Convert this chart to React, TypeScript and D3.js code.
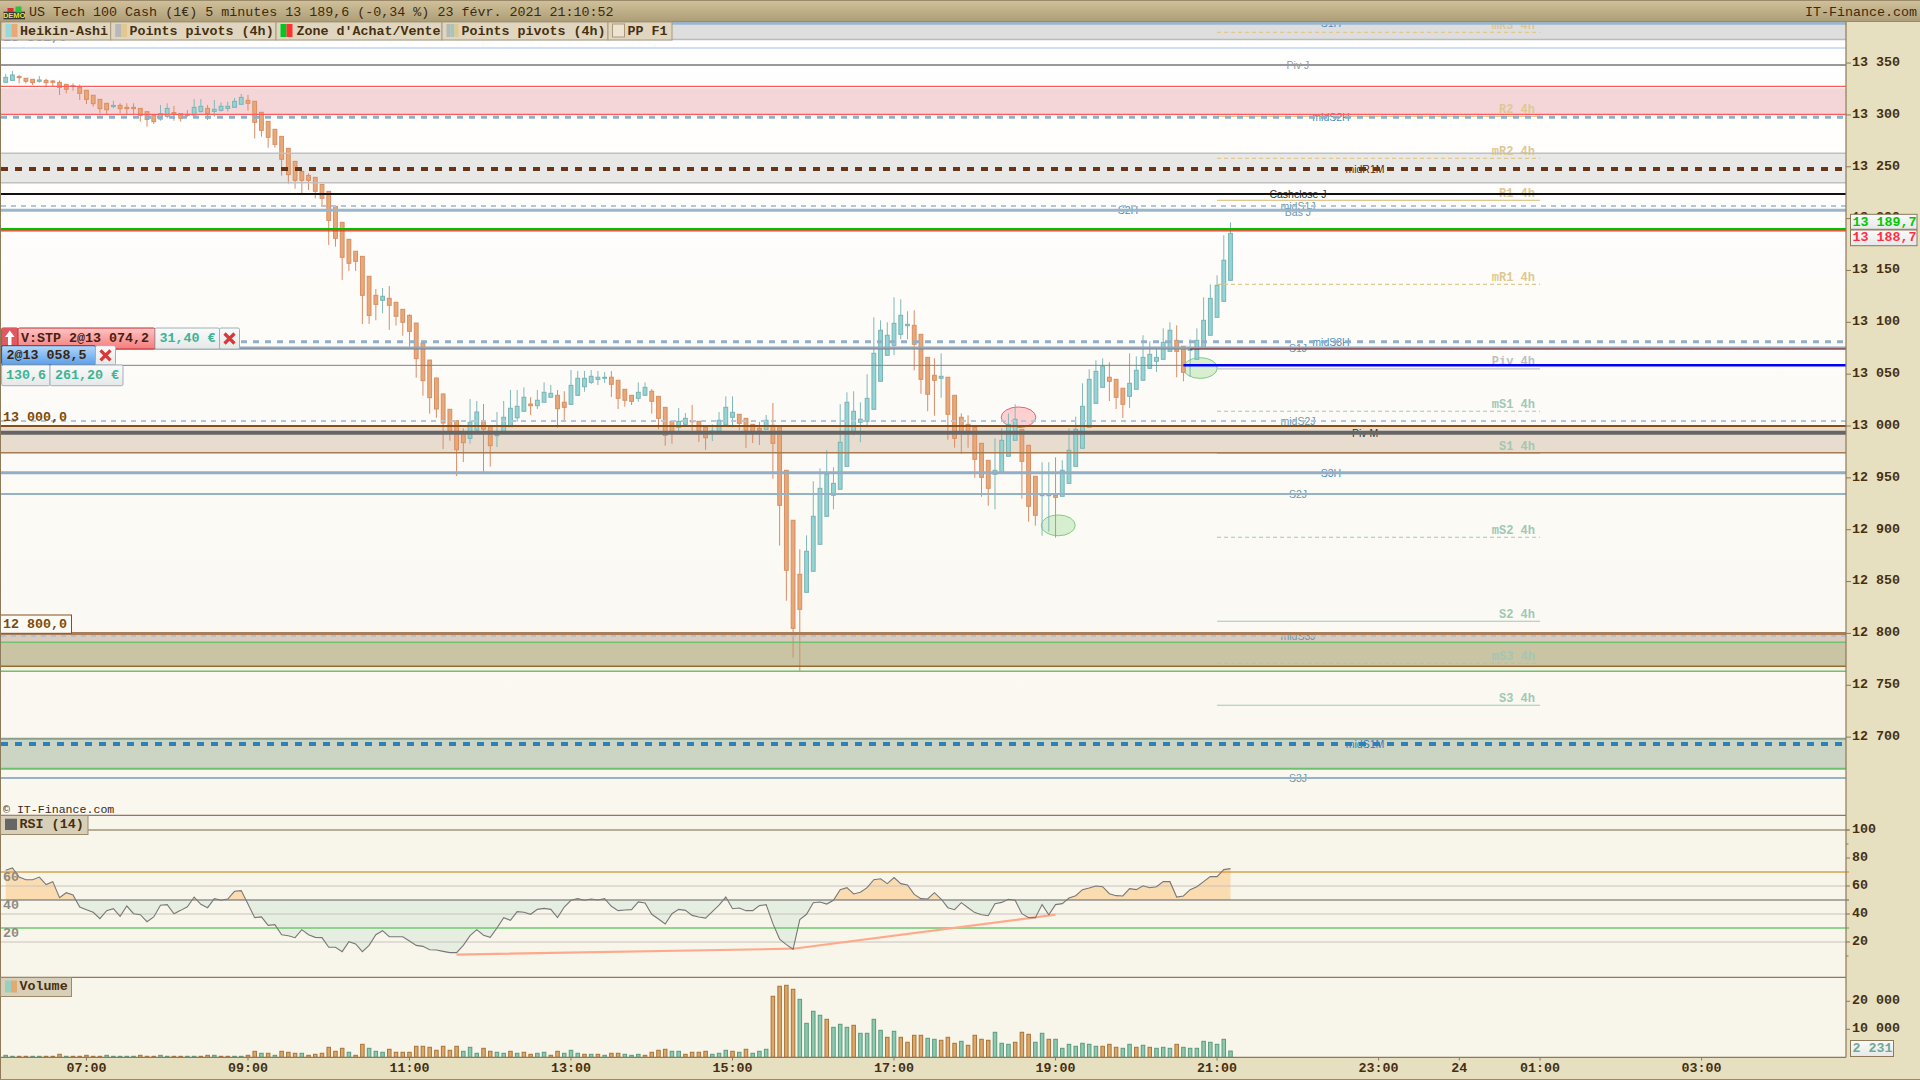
import { useEffect } from 'react'
import * as d3 from 'd3'

// Heikin-Ashi candles, 5 min bars from 06:00 to 21:10
const opens = [
  13331.4,13333.3,13336.9,13335.3,13334.3,13332.4,13333.3,13332.7,13331.4,13329.5,
  13328.2,13326.6,13323.7,13318.9,13315,13311.2,13308,13309.2,13307.3,13307.3,
  13306.3,13303.1,13299.3,13296,13298.6,13302.2,13301.2,13300.5,13299.9,13303.1,
  13306.3,13303.4,13304.4,13306.3,13307.3,13310.2,13314,13313.1,13302.5,13293.8,
  13286.1,13279.3,13267.8,13255.2,13245.6,13241.7,13239.8,13233,13226.3,13211.8,
  13196.4,13180,13168.5,13163.6,13144.4,13126,13121.2,13123.1,13119.3,13112.5,
  13106.7,13099.3,13080,13063.6,13046.3,13030.9,13016.1,13005.1,12993,12988.1,
  12996.1,13004.1,12999.3,12991,12994.9,12999.3,13008,13014.2,13021.2,13019.6,
  13022.9,13027.7,13029.6,13022.9,13020.9,13029.6,13037.9,13042.1,13045,13046,
  13047,13044.1,13035.4,13029.6,13026.7,13029.6,13033.5,13028.6,13018,13004.5,
  12998.7,13001.6,13005.1,13004.5,12998.7,12994.2,12994.9,13001,13008.4,13011.3,
  13007.4,13001.6,12997.8,12996.8,13000.7,12999.3,12957.3,12909.1,12857,12839.6,
  12859.9,12885.9,12912.9,12933.2,12939,12961.1,12994.9,13003.6,13004.5,13016.1,
  13043.1,13068.2,13077.8,13088.4,13096.7,13097.1,13088.4,13066.2,13048.9,13046,
  13047,13029.6,13008.4,13001.6,12998.7,12983.3,12966.9,12953.4,12955.4,12970.8,
  12986.2,12996.8,12981.4,12951.5,12932.8,12932.8,12933.2,12932.2,12944.7,12961.1,
  12978.5,12998.7,13021.9,13037.3,13047,13045,13036.4,13028.6,13035.4,13044.1,
  13055.6,13062.4,13064.3,13072,13082.6,13076.9,13073,13064.3,13075.9,13087.5,
  13104.8,13120.2,13140.5,
]
const closes = [
  13336.2,13338.5,13336.2,13332.4,13331.1,13333.7,13331.1,13331.4,13326.6,13324.7,
  13327.6,13320.8,13315,13310.8,13306,13305,13309.2,13306,13306,13306,
  13299.6,13295.7,13293.5,13301.2,13306.3,13300.9,13296.7,13299.9,13307.3,13308.3,
  13301.2,13305.4,13308.3,13308.3,13313.1,13316.9,13311.2,13292.8,13285.1,13278.4,
  13271.6,13257.2,13242.4,13236.9,13236.9,13236.9,13226.3,13219.6,13198.3,13181,
  13162.7,13156.9,13158.8,13126,13106.7,13117.3,13125.1,13116.4,13105.8,13100,
  13091.3,13064.9,13043.7,13027.3,13016.4,13002.9,12994.9,12977.1,12983.9,13003.6,
  13013.5,12996.8,12981,12991.6,13008.4,13017.1,13019,13027.7,13019.6,13024.8,
  13032.5,13031.5,13016.7,13018,13039.2,13046,13046,13047.9,13047,13047,
  13040.2,13026.7,13024.8,13023.8,13032.5,13037.3,13023.8,13007.4,12991,12994.9,
  13004.5,13007.4,13004.1,12994.9,12988.7,12995.2,13005.5,13018,13013.2,13002.6,
  12995.9,12994.9,12995.9,13005.5,12983.3,12923.5,12860.9,12804.9,12823.2,12879.2,
  12912.9,12939.9,12953.4,12944.7,12984.3,13022.9,13014.2,13006.5,13026.7,13070.1,
  13092.3,13087.5,13099,13106.7,13098.1,13078.8,13045,13030.6,13044.1,13047.9,
  13011.3,12988.1,12993.2,12993.2,12967.9,12950.5,12939.9,12957.3,12986.2,13001.6,
  13006.5,12966,12922.6,12913.9,12933.8,12933.8,12931.2,12957.3,12976.6,12996.8,
  13019,13045,13052.7,13057.6,13043.1,13027.7,13020.9,13041.2,13053.7,13066.2,
  13069.1,13066.2,13080.7,13092.3,13072,13051.8,13074,13082.6,13101.9,13123.1,
  13135.7,13159.8,13185.8,
]
const highs = [
  13339.4,13342.3,13338.5,13335.3,13334.3,13337.5,13334.9,13333.7,13333.3,13329.5,
  13330.4,13329.2,13323.7,13318.9,13315,13311.2,13313.7,13311.2,13311.2,13311.2,
  13306.3,13303.1,13299.3,13309.6,13311.2,13308.6,13301.2,13304.7,13315.3,13315.3,
  13309.6,13314.4,13312.1,13312.8,13316.3,13320.2,13319.2,13313.1,13302.5,13293.8,
  13286.1,13279.3,13267.8,13255.2,13245.6,13243.7,13239.8,13233,13226.3,13211.8,
  13196.4,13180,13168.5,13163.6,13144.4,13132.1,13133.1,13135,13119.3,13112.5,
  13107.7,13099.3,13080,13063.6,13046.3,13030.9,13016.1,13005.1,12997.8,13026,
  13024.1,13021.2,12999.3,13013.5,13024.1,13034.7,13034.7,13037.3,13027.7,13034.7,
  13042.1,13039.5,13034.7,13033.5,13054,13053,13053,13054,13053,13052.1,
  13053,13044.1,13035.4,13029.6,13042.1,13042.1,13035.7,13028.6,13018,13004.5,
  13017.4,13012.5,13020.3,13004.5,12998.7,13001.6,13013.5,13028.6,13028.6,13011.3,
  13007.4,13001.6,13003.9,13010.6,13022.2,12999.3,12957.3,12909.1,12881.1,12894.6,
  12946.7,12959.2,12976.9,12960.2,13020.9,13032.5,13033.5,13022.9,13049.9,13104.8,
  13101.9,13100,13124.1,13122.2,13110.6,13111.6,13088.4,13066.2,13065.3,13070.1,
  13047,13029.6,13012.2,13010.3,12998.7,12983.3,12966.9,12988.1,12997.8,13012.2,
  13020.9,12996.8,12981.4,12951.5,12965,12965,12969.8,12966.9,12997.8,13009,
  13041.2,13054.7,13063.4,13065.3,13061.4,13045,13036.4,13070.1,13067.2,13087.5,
  13081.7,13074.9,13094.2,13100,13097.1,13076.9,13083.6,13094.2,13124.1,13136.6,
  13145.3,13183.9,13196.4,
]
const lows = [
  13331.4,13333.3,13330.4,13330.4,13328.8,13331.1,13326.6,13327.9,13319.2,13320.8,
  13323.4,13314.4,13310.5,13307.9,13301.5,13300.2,13306.3,13301.5,13300.5,13300.5,
  13293.5,13288.7,13291.2,13294.4,13296.7,13294.4,13293.5,13298.3,13298.3,13302.5,
  13295.1,13298.3,13303.1,13303.1,13307.3,13310.2,13304.1,13277.4,13279,13268.4,
  13268.4,13241.4,13233.7,13228.9,13224.4,13227.6,13219.6,13213.1,13174.6,13173,
  13140.8,13149.5,13149.5,13098.4,13098.4,13101.9,13108.7,13092.6,13096.8,13087.1,
  13076.5,13046.6,13029.2,13011.9,13008,12977.8,12985.8,12951.8,12965.3,12982.9,
  12994.5,12955.9,12960.8,12979.7,12994.9,12999.3,13004.1,13014.2,13010.6,13016.4,
  13022.9,13027.7,12998.4,13005.8,13020.9,13029.6,13033.1,13040.5,13039.5,13041.5,
  13028,13016.4,13018.6,13020.3,13023.4,13029.6,13011.9,12996.8,12981,12982.9,
  12994.9,13001.6,12994.5,12984.6,12976.9,12985.5,12994.9,13001,12998.7,12996.1,
  12978.8,12983.6,12981.7,12996.8,12949.2,12884.6,12831.5,12776.6,12763.1,12839.6,
  12859.9,12885.9,12912.9,12919.7,12939,12961.1,12991,12984.3,12998.7,13016.1,
  13043.1,13068.2,13068.2,13083.6,13083.6,13053.7,13031.1,13014.2,13009.9,13027.3,
  12986.8,12979.1,12973.3,12979.1,12950.1,12931.8,12923.1,12919.7,12955.4,12970.8,
  12986.2,12929.9,12907.7,12903.9,12894.2,12898.1,12892.3,12932.2,12944.7,12961.1,
  12978.5,12998.7,13021.9,13037.3,13024.1,13016.4,13007.7,13017.4,13035.4,13044.1,
  13055.6,13052.1,13064.3,13072,13047,13043.1,13047.5,13064.3,13075.9,13087.5,
  13104.8,13120.2,13140.5,
]
const volumes = [
  710,360,360,360,360,360,360,360,1070,360,
  360,360,710,360,360,710,360,360,360,360,
  710,360,360,710,360,360,360,360,360,360,
  710,710,360,360,360,360,710,2140,1430,1430,
  710,2140,1790,1430,1430,710,1070,1430,3570,2140,
  3210,1790,710,4640,3210,2140,1790,2860,1790,1790,
  1790,3930,3930,3570,2500,3930,2500,3930,2140,3570,
  1430,3210,2140,1790,1430,2140,1430,1790,1070,1430,
  1790,710,2140,1430,2500,1430,1070,1070,1070,710,
  1430,1430,1070,710,1070,710,1790,2500,2860,2140,
  2140,1070,1790,1790,2140,1070,1430,2500,2140,1790,
  2860,1430,2140,2860,21790,25360,25710,24290,20710,12140,
  16430,15000,13570,10710,11790,10710,11430,8570,8570,13570,
  9640,7140,9290,7140,5360,7860,7860,6790,6430,6070,
  7140,5000,5710,4290,7860,6430,6070,8930,5000,4640,
  5360,8930,8210,5360,8570,6430,6430,3210,4640,3930,
  5000,4640,3930,3930,4640,3570,3210,4640,3570,4290,
  3570,3210,3570,3210,4640,3570,3210,3210,5710,5360,
  4640,6430,2231,
]
// o = down bar, t = up bar (the volume colours follow the raw candles, not the HA ones)
const volumeSides =
  'ttoottooot' + 'ooooottttt' + 'ooottootto' + 'otoottooto' + 'toootooooo' +
  'otootttooo' + 'oooooooott' + 'toottotoot' + 'tootttotot' + 'ootttoooot' +
  'tooootttot' + 'otttoooott' + 'ttotttottt' + 'totooootto' + 'ootoooottt' +
  'ooottotttt' + 'tttooottot' + 'otttottttt' + 'ttt'
const rsiValues = [
  71.2,72.9,66.4,64.5,64.5,66.4,61,63.1,51.7,55.2,
  53.6,45,43.1,41.2,36.7,42.4,43.8,38.3,45.7,40.2,
  39.5,34.5,37.9,46.2,46.7,40.2,42.6,45.2,52.1,46.9,
  44.5,51,49.8,50.7,56.2,56.7,47.1,37.4,37.9,31.9,
  32.4,25.2,24.5,23.1,28.8,25.2,23.3,23.1,16.2,16.2,
  13.1,20.2,18.6,13.1,17.6,25.2,28.1,23.8,23.8,23.8,
  20.7,17.6,16.9,14.5,14.3,13.3,12.4,12.4,17.6,24.5,
  28.8,24.8,23.3,30,37.4,35.5,41.7,41.2,39.8,43.3,
  44,43.3,37.4,45,49.8,51,49.8,50.7,50,51,
  45.5,42.4,42.9,43.1,48.6,47.9,39.8,36.4,32.9,40.2,
  43.3,42.6,39,37.9,37.1,41.7,46.4,52.1,43.8,44.3,
  42.4,42.4,46,46.7,33.1,22.1,18.1,14.8,36,39.8,
  48.1,48.6,47.1,49.8,57.4,58.8,54.3,55.5,58.8,64.5,
  65.2,61.7,66,61.7,60.7,54,51,50.7,55.2,50.7,
  44.5,43.1,48.1,44.5,41,39.5,38.8,47.4,48.3,50.5,
  49.8,40.2,37.4,37.4,46.7,39.5,46.7,47.4,51.4,53.1,
  57.4,58.6,60,59.5,54.5,53.1,52.9,58.1,57.4,60.2,
  58.8,59.5,63.1,63.1,52.1,52.9,57.4,59.5,63.1,66.7,
  66.7,71.7,72.4,
]
const rsiTrendBars = [67, 117, 156]
const rsiTrendValues = [11, 15.2, 39.5]

const timeTickBars = [12, 36, 60, 84, 108, 132, 156, 180, 204, 216, 228, 252]
const timeTickLabels = ['07:00', '09:00', '11:00', '13:00', '15:00', '17:00', '19:00', '21:00', '23:00', '24', '01:00', '03:00']
const priceTicks = [13350, 13300, 13250, 13200, 13150, 13100, 13050, 13000, 12950, 12900, 12850, 12800, 12750, 12700]
const rsiTicks = [100, 80, 60, 40, 20]
const rsiMinorTicks = [90, 10]
const volumeTicks = [20000, 10000]

// zones on the price panel
const zoneTops = [13390, 13325.6, 13263, 13000, 12800, 12791.4, 12768.3, 12698.5]
const zoneBottoms = [13372.7, 13300.6, 13234.6, 12974.3, 12791.4, 12768.3, 12763.5, 12669.5]

// pivots of the 4h indicator, drawn from 21:00 to 01:00
const pivotNames = ['mR3 4h', 'R2 4h', 'mR2 4h', 'R1 4h', 'mR1 4h', 'Piv 4h', 'mS1 4h', 'S1 4h', 'mS2 4h', 'S2 4h', 'mS3 4h', 'S3 4h']
const pivotPrices = [13379.6, 13298.6, 13258.1, 13217.6, 13136.6, 13055, 13014.2, 12973.7, 12892.7, 12811.7, 12771.2, 12730.7]
const pivotStartBar = 180
const pivotEndBar = 228

// long horizontal levels
const levelNames = [
  'S1H', 'edgeTop', 'prev', 'Piv J', 'redHigh', 'redLow', 'midS2H', 'edgeHigh', 'edgeLow', 'midR1M', 'Cashclose J',
  'midS1J', 'S2H', 'midS3H', 'S1J', 'midS2J', 'zone13000', 'Piv M', 'zoneEdge', 'S3H', 'S2J', 'zone12800', 'midS3J',
  'greenHigh', 'brownLow', 'greenLow', 'edgeMid', 'midS1M', 'greenMid', 'S3J',
]
const levelPrices = [
  13388.3, 13372.7, 13364.5, 13348.1, 13327.6, 13300.6, 13297.7, 13263, 13234.6, 13247.8, 13223.7,
  13212.1, 13208, 13081.3, 13075.5, 13004.8, 13000, 12993.5, 12974.3, 12955, 12934.4, 12800, 12797.5,
  12791.4, 12768.3, 12763.5, 12698.5, 12693.4, 12669.5, 12660.6,
]
const levelTextNames = ['S1H', 'Piv J', 'midS2H', 'midR1M', 'Cashclose J', 'midS1J', 'Bas J', 'S2H', 'midS3H', 'S1J', 'midS2J', 'Piv M', 'S3H', 'S2J', 'midS3J', 'midS1M', 'S3J']
const levelTextPrices = [13388.3, 13348.1, 13297.7, 13247.8, 13223.7, 13212.1, 13206, 13208, 13081.3, 13075.5, 13004.8, 12993.5, 12955, 12934.4, 12797.5, 12693.4, 12660.6]

const stopPrice = 13074.2
const entryPrice = 13058.5
const askPrice = 13189.7
const bidPrice = 13188.7

// signal ellipses: bar, price
const redSignals = [[150.5, 13008.4]]
const greenSignals = [[156.4, 12904.2], [177.5, 13055.9]]

const title = 'US Tech 100 Cash (1€) 5 minutes 13 189,6 (-0,34 %) 23 févr. 2021 21:10:52'

const MONO = '"Liberation Mono", "DejaVu Sans Mono", monospace'
const SANS = '"Liberation Sans", Arial, sans-serif'
const INK = '#46300f'
const AXIS_X = 1846

const LINE_STYLES: Record<string, { c: string; w: number; d?: string }> = {
  S1H: { c: '#9ab6cc', w: 3 },
  edgeTop: { c: '#bbbbbb', w: 1.5 },
  prev: { c: '#d0dcf8', w: 2 },
  'Piv J': { c: '#999999', w: 2 },
  redHigh: { c: '#ff5a5a', w: 1.2 },
  redLow: { c: '#ff5a5a', w: 1.2 },
  midS2H: { c: '#8fb0c8', w: 3, d: '6 6' },
  edgeHigh: { c: '#c0c0c0', w: 1.5 },
  edgeLow: { c: '#c0c0c0', w: 1.5 },
  midR1M: { c: '#6a3416', w: 4, d: '7 7' },
  'Cashclose J': { c: '#111111', w: 2 },
  midS1J: { c: '#b4c6dc', w: 2, d: '5 5' },
  S2H: { c: '#9ab6cc', w: 3 },
  midS3H: { c: '#8fb0c8', w: 3, d: '6 6' },
  S1J: { c: '#8fa9c0', w: 2.5 },
  midS2J: { c: '#b4c6dc', w: 2, d: '5 5' },
  zone13000: { c: '#8a4f18', w: 2 },
  'Piv M': { c: '#666666', w: 4 },
  zoneEdge: { c: '#a87a50', w: 1.5 },
  S3H: { c: '#92aec4', w: 3 },
  S2J: { c: '#96b2c8', w: 2 },
  zone12800: { c: '#a87d58', w: 3 },
  midS3J: { c: '#b4c0d0', w: 2, d: '5 5' },
  greenHigh: { c: '#72c072', w: 1.4 },
  brownLow: { c: '#9a6a30', w: 1.5 },
  greenLow: { c: '#72c072', w: 1.4 },
  edgeMid: { c: '#8aa08a', w: 2 },
  midS1M: { c: '#2e80b8', w: 4, d: '7 7' },
  greenMid: { c: '#6ebf6e', w: 2 },
  S3J: { c: '#96b2c8', w: 2 },
}
const LEVEL_TEXT: Record<string, { x: number; c: string }> = {
  S1H: { x: 1331, c: '#4a90c0' },
  'Piv J': { x: 1298, c: '#999999' },
  midS2H: { x: 1331, c: '#4a90c0' },
  midR1M: { x: 1365, c: '#5a2a10' },
  'Cashclose J': { x: 1298, c: '#333333' },
  midS1J: { x: 1298, c: '#6c98a8' },
  'Bas J': { x: 1298, c: '#6c98a8' },
  S2H: { x: 1128, c: '#4a90c0' },
  midS3H: { x: 1331, c: '#4a90c0' },
  S1J: { x: 1298, c: '#6c98a8' },
  midS2J: { x: 1298, c: '#6c98a8' },
  'Piv M': { x: 1365, c: '#333333' },
  S3H: { x: 1331, c: '#4a90c0' },
  S2J: { x: 1298, c: '#6c98a8' },
  midS3J: { x: 1298, c: '#6c98a8' },
  midS1M: { x: 1365, c: '#2e80b8' },
  S3J: { x: 1298, c: '#6c98a8' },
}
const ZONE_FILLS = ['#dedede', '#f4d6d8', '#e8e8e6', '#e8dccf', '#d9ccbc', '#c9c4a4', '#f3f3e4', '#ccd4c4']

const spaced = (v: number) => d3.format(',')(v).replace(/,/g, ' ')

function Mono({ x, y, children, fill = INK, size = 13.35, weight = 700, anchor = 'start' }: any) {
  return (
    <text x={x} y={y} fill={fill} fontFamily={MONO} fontSize={size} fontWeight={weight} textAnchor={anchor} dominantBaseline="central">
      {children}
    </text>
  )
}

function Chip({ x, w, label, textX, colors }: { x: number; w: number; label: string; textX: number; colors: string[] }) {
  const iconX = d3.scaleBand<number>().domain(d3.range(colors.length)).range([x + 4.5, x + 16.5])
  return (
    <g>
      <rect x={x} y={22} width={w} height={18} fill="#e0d6c0" stroke="#a89a7c" />
      {colors.map((c, i) => (
        <rect key={i} x={iconX(i)} y={24} width={iconX.bandwidth()} height={13} fill={c} />
      ))}
      {colors.length === 0 && <rect x={x + 4.5} y={24} width={12} height={13} fill="#ece4d0" stroke="#a89a7c" />}
      <Mono x={textX} y={31}>{label}</Mono>
    </g>
  )
}

function OrderBox({ x, y, w, h, grad, stroke, children }: any) {
  return <g><rect x={x} y={y} width={w} height={h} rx={1.5} fill={`url(#${grad})`} stroke={stroke} />{children}</g>
}

function CrossIcon({ cx, cy }: { cx: number; cy: number }) {
  return <path d={`M${cx - 5},${cy - 5}L${cx + 5},${cy + 5}M${cx + 5},${cy - 5}L${cx - 5},${cy + 5}`} stroke="#d83838" strokeWidth={3.2} />
}

export default function App() {
  useEffect(() => {
    document.body.style.margin = '0'
  }, [])

  const x = d3.scaleLinear().domain([0, 252]).range([5.7, 1701.6])
  const y = d3.scaleLinear().domain([13000, 12700]).range([426, 737.1])
  const yRsi = d3.scaleLinear().domain([0, 100]).range([970, 830])
  const yVol = d3.scaleLinear().domain([0, 20000]).range([1057.3, 1001.3])

  const rsiLine = d3.line<number>().x((_, i) => x(i)).y((d) => yRsi(d))
  const rsiArea = d3.area<number>().x((_, i) => x(i)).y0(yRsi(50)).y1((d) => yRsi(d))
  const trendLine = d3.line<number>().x((d) => x(d)).y((_, i) => yRsi(rsiTrendValues[i]))

  return (
    <svg width={1920} height={1080} style={{ position: 'absolute', left: 0, top: 0, display: 'block' }}>
      <defs>
        <linearGradient id="titleBar" x1="0" y1="0" x2="0" y2="1">
          <stop offset="0" stopColor="#d2c29c" />
          <stop offset="1" stopColor="#ae9e78" />
        </linearGradient>
        <linearGradient id="pricePanel" x1="0" y1="0" x2="0" y2="1">
          <stop offset="0" stopColor="#ffffff" />
          <stop offset="1" stopColor="#faf7ef" />
        </linearGradient>
        <linearGradient id="redTag" x1="0" y1="0" x2="0" y2="1">
          <stop offset="0" stopColor="#ffc4c4" />
          <stop offset="1" stopColor="#f47c7c" />
        </linearGradient>
        <linearGradient id="blueTag" x1="0" y1="0" x2="0" y2="1">
          <stop offset="0" stopColor="#b4d8fa" />
          <stop offset="1" stopColor="#5a9ee8" />
        </linearGradient>
        <linearGradient id="greyTag" x1="0" y1="0" x2="0" y2="1">
          <stop offset="0" stopColor="#fafafa" />
          <stop offset="1" stopColor="#e6e8e8" />
        </linearGradient>
        <clipPath id="priceClip"><rect x={1} y={22} width={AXIS_X - 1} height={793} /></clipPath>
        <clipPath id="rsiAbove"><rect x={0} y={815} width={AXIS_X} height={yRsi(50) - 815} /></clipPath>
        <clipPath id="rsiBelow"><rect x={0} y={yRsi(50)} width={AXIS_X} height={977 - yRsi(50)} /></clipPath>
      </defs>

      {/* frame */}
      <rect x={0} y={0} width={1920} height={1080} fill="#e6dfc0" />
      <rect x={1} y={22} width={AXIS_X - 1} height={793} fill="url(#pricePanel)" />
      <rect x={1} y={815} width={AXIS_X - 1} height={242} fill="#f8f5ea" />

      {/* price panel */}
      <g clipPath="url(#priceClip)">
        {zoneTops.map((t, i) => (
          <rect key={i} x={1} y={y(t)} width={AXIS_X} height={y(zoneBottoms[i]) - y(t)} fill={ZONE_FILLS[i]} />
        ))}

        {redSignals.map(([b, p], i) => (
          <ellipse key={i} cx={x(b)} cy={y(p)} rx={17.3} ry={10.3} fill="#ffd0d0" stroke="#f06070" strokeWidth={1} />
        ))}
        {greenSignals.map(([b, p], i) => (
          <ellipse key={i} cx={x(b)} cy={y(p)} rx={17} ry={10.4} fill="#d8eed0" stroke="#80cc80" strokeWidth={1} />
        ))}

        {opens.map((o, i) => {
          const c = closes[i]
          const up = c >= o
          const top = y(Math.max(o, c))
          const h = Math.max(y(Math.min(o, c)) - top, 1)
          return (
            <g key={i}>
              <line x1={x(i)} x2={x(i)} y1={y(highs[i])} y2={y(lows[i])} stroke={up ? '#80b8b8' : '#d98c68'} />
              <rect x={x(i) - 1.9} y={top} width={3.8} height={h} fill={up ? '#94d4d4' : '#e8a878'} stroke={up ? '#7ab4b4' : '#d98e62'} />
            </g>
          )
        })}

        {pivotNames.map((n, i) => {
          const base = n.replace(' 4h', '')
          const color = base.includes('R') ? '#e0c890' : base === 'Piv' ? '#c0c0c0' : '#a0c8b4'
          const py = y(pivotPrices[i])
          return (
            <g key={n}>
              <line x1={x(pivotStartBar)} x2={x(pivotEndBar)} y1={py} y2={py} stroke={color} strokeWidth={1.2} strokeDasharray={base.startsWith('m') ? '4 3' : undefined} />
              <Mono x={1535} y={py - 6.6} fill={color} size={12} anchor="end">{n}</Mono>
            </g>
          )
        })}

        {levelTextNames.map((n, i) => (
          <text key={n} x={LEVEL_TEXT[n].x} y={y(levelTextPrices[i])} fill={LEVEL_TEXT[n].c} fontFamily={SANS} fontSize={10.5} textAnchor="middle" dominantBaseline="central">
            {n}
          </text>
        ))}

        {levelNames.map((n, i) => {
          const s = LINE_STYLES[n]
          return <line key={n} x1={1} x2={AXIS_X} y1={y(levelPrices[i])} y2={y(levelPrices[i])} stroke={s.c} strokeWidth={s.w} strokeDasharray={s.d} />
        })}
        <line x1={1} x2={x(176)} y1={y(stopPrice)} y2={y(stopPrice)} stroke="#808080" />
        <line x1={x(176)} x2={AXIS_X} y1={y(stopPrice)} y2={y(stopPrice)} stroke="#8b0000" />
        <line x1={1} x2={x(175)} y1={y(entryPrice)} y2={y(entryPrice)} stroke="#808080" />
        <line x1={x(175)} x2={AXIS_X} y1={y(entryPrice)} y2={y(entryPrice)} stroke="#0000ff" strokeWidth={2.5} />
        <line x1={1} x2={AXIS_X} y1={y(askPrice)} y2={y(askPrice)} stroke="#00c000" strokeWidth={2.5} />
        <line x1={1} x2={AXIS_X} y1={y(bidPrice) + 0.6} y2={y(bidPrice) + 0.6} stroke="#ff3030" strokeWidth={1.2} />

        <Mono x={3} y={37.5} fill="#8a9bd0">13 361,0</Mono>
        <Mono x={3} y={417} fill="#7a4a10">13 000,0</Mono>
        <rect x={0.5} y={615} width={71} height={18.3} fill="#fcfaf5" stroke="#8a4f18" />
        <Mono x={3} y={624} fill="#7a4a10">12 800,0</Mono>
        <Mono x={3} y={809.7} fill="#3a2a1a" size={11.6} weight={400}>© IT-Finance.com</Mono>

        {/* order tags */}
        <OrderBox x={1.6} y={328} w={16.4} h={21} grad="redTag" stroke="#c03030">
          <rect x={1.6} y={328} width={16.4} height={21} fill="#e05860" />
          <path d="M9.8,330.5L14.5,337H11.5V347H8V337H5Z" fill="#ffffff" />
        </OrderBox>
        <OrderBox x={18} y={328} w={137} h={21} grad="redTag" stroke="#c03030">
          <Mono x={21} y={338.8} fill="#4a2010">V:STP 2@13 074,2</Mono>
        </OrderBox>
        <OrderBox x={155} y={328} w={64.5} h={21} grad="greyTag" stroke="#a0b0b8">
          <Mono x={159.5} y={338.8} fill="#3cb496">31,40 €</Mono>
        </OrderBox>
        <OrderBox x={219.5} y={328} w={20} h={21} grad="greyTag" stroke="#a0b0b8">
          <CrossIcon cx={229.5} cy={338.5} />
        </OrderBox>
        <OrderBox x={1.6} y={345.7} w={93.9} h={19.3} grad="blueTag" stroke="#1850a0">
          <Mono x={6.5} y={355.4} fill="#3a2410">2@13 058,5</Mono>
        </OrderBox>
        <OrderBox x={95.5} y={345.7} w={20} h={19.3} grad="greyTag" stroke="#a0b0b8">
          <CrossIcon cx={105.5} cy={355.4} />
        </OrderBox>
        <OrderBox x={1.6} y={365} w={48.4} h={20.7} grad="greyTag" stroke="#a0b0b8">
          <Mono x={6} y={375.5} fill="#3cb496">130,6</Mono>
        </OrderBox>
        <OrderBox x={50} y={365} w={73} h={20.7} grad="greyTag" stroke="#a0b0b8">
          <Mono x={55} y={375.5} fill="#3cb496">261,20 €</Mono>
        </OrderBox>
      </g>

      {/* RSI panel */}
      <path d={rsiArea(rsiValues) ?? ''} fill="#fbdcb0" clipPath="url(#rsiAbove)" />
      <path d={rsiArea(rsiValues) ?? ''} fill="#e6eee2" clipPath="url(#rsiBelow)" />
      <line x1={88} x2={AXIS_X + 3} y1={yRsi(100)} y2={yRsi(100)} stroke="#b8ae98" strokeWidth={2} />
      <line x1={1} x2={AXIS_X + 3} y1={yRsi(70)} y2={yRsi(70)} stroke="#d8a050" strokeWidth={1.3} />
      <line x1={1} x2={AXIS_X + 3} y1={yRsi(60)} y2={yRsi(60)} stroke="#c8c4bc" />
      <line x1={1} x2={AXIS_X + 3} y1={yRsi(50)} y2={yRsi(50)} stroke="#606060" />
      <line x1={1} x2={AXIS_X + 3} y1={yRsi(40)} y2={yRsi(40)} stroke="#c8c4bc" />
      <line x1={1} x2={AXIS_X + 3} y1={yRsi(30)} y2={yRsi(30)} stroke="#70c870" strokeWidth={1.3} />
      <line x1={1} x2={AXIS_X + 3} y1={yRsi(20)} y2={yRsi(20)} stroke="#c8c4bc" />
      <path d={trendLine(rsiTrendBars) ?? ''} fill="none" stroke="#ffa98a" strokeWidth={2.2} />
      <path d={rsiLine(rsiValues) ?? ''} fill="none" stroke="#787878" strokeWidth={1.1} />
      <Mono x={3} y={877} fill="#8c8c84">60</Mono>
      <Mono x={3} y={905} fill="#8c8c84">40</Mono>
      <Mono x={3} y={933} fill="#8c8c84">20</Mono>

      {/* volume panel */}
      {volumes.map((v, i) => {
        const up = volumeSides[i] === 't'
        return (
          <rect
            key={i}
            x={x(i) - 1.75}
            y={yVol(v)}
            width={3.5}
            height={yVol(0) - yVol(v)}
            fill={up ? '#8ccab0' : '#dca868'}
            stroke={up ? '#5a9a80' : '#aa7238'}
          />
        )
      })}

      {/* panel frames */}
      <line x1={1} x2={AXIS_X} y1={815.3} y2={815.3} stroke="#8c7a5a" strokeWidth={1.2} />
      <line x1={1} x2={AXIS_X} y1={977.3} y2={977.3} stroke="#8c7a5a" strokeWidth={1.2} />
      <line x1={1} x2={AXIS_X} y1={1057.3} y2={1057.3} stroke="#8c7a5a" strokeWidth={1.2} />
      <line x1={AXIS_X} x2={AXIS_X} y1={22} y2={1057.3} stroke="#8c7a5a" strokeWidth={1.2} />
      <line x1={0.5} x2={0.5} y1={22} y2={1079} stroke="#8c7a5a" />
      <line x1={0} x2={1920} y1={1079.5} y2={1079.5} stroke="#9a8a6a" />

      {/* right axis */}
      {priceTicks.map((p) => (
        <g key={p}>
          <line x1={AXIS_X} x2={AXIS_X + 5} y1={y(p)} y2={y(p)} stroke="#8c7a5a" />
          <Mono x={1852} y={y(p) - 0.7}>{spaced(p)}</Mono>
        </g>
      ))}
      {rsiTicks.map((v) => (
        <g key={v}>
          <line x1={AXIS_X} x2={AXIS_X + 4} y1={yRsi(v)} y2={yRsi(v)} stroke="#8c7a5a" />
          <Mono x={1852} y={yRsi(v) - 0.8}>{v}</Mono>
        </g>
      ))}
      {rsiMinorTicks.map((v) => (
        <line key={v} x1={AXIS_X} x2={AXIS_X + 2.5} y1={yRsi(v)} y2={yRsi(v)} stroke="#8c7a5a" />
      ))}
      {volumeTicks.map((v) => (
        <g key={v}>
          <line x1={AXIS_X} x2={AXIS_X + 4} y1={yVol(v)} y2={yVol(v)} stroke="#8c7a5a" />
          <Mono x={1852} y={yVol(v) - 1.3}>{spaced(v)}</Mono>
        </g>
      ))}

      {/* last value tags */}
      <rect x={1850.5} y={214.3} width={66.5} height={15} fill="url(#greyTag)" stroke="#8c7a5a" />
      <Mono x={1852.5} y={222} fill="#00c800">13 189,7</Mono>
      <rect x={1850.5} y={230} width={66.5} height={15.7} fill="url(#greyTag)" stroke="#8c7a5a" />
      <Mono x={1852.5} y={237.5} fill="#ff3040">13 188,7</Mono>
      <rect x={1850.5} y={1040.5} width={43} height={16} fill="url(#greyTag)" stroke="#8c7a5a" />
      <Mono x={1852.5} y={1048} fill="#70a898">{spaced(volumes[volumes.length - 1])}</Mono>

      {/* time axis */}
      {timeTickBars.map((b, i) => (
        <g key={b}>
          <line x1={x(b)} x2={x(b)} y1={1057.3} y2={1060.5} stroke="#8c7a5a" />
          <Mono x={x(b)} y={1068} anchor="middle">{timeTickLabels[i]}</Mono>
        </g>
      ))}

      {/* indicator chips */}
      <rect x={0.5} y={815.5} width={87.5} height={19} fill="#d8cfb8" stroke="#9a8a6a" />
      <rect x={5} y={818.7} width={12} height={11.3} fill="#666666" />
      <Mono x={19.6} y={824.5}>RSI (14)</Mono>
      <rect x={0.5} y={977.5} width={71} height={19} fill="#d8cfb8" stroke="#9a8a6a" />
      <rect x={5} y={980.5} width={6} height={12} fill="#98d0c0" />
      <rect x={11} y={980.5} width={6} height={12} fill="#e0aa70" />
      <Mono x={19.6} y={986}>Volume</Mono>

      {/* title bar */}
      <rect x={0} y={0} width={1920} height={21.5} fill="url(#titleBar)" />
      <line x1={0} x2={1920} y1={0.5} y2={0.5} stroke="#9a8a6a" />
      <line x1={0} x2={1920} y1={21.5} y2={21.5} stroke="#9a8a6a" />
      <rect x={3.5} y={11.7} width={21.5} height={7.6} fill="#33363a" />
      <rect x={7.5} y={8} width={6} height={4} fill="#d83030" />
      <rect x={15.5} y={6.5} width={6} height={6} fill="#30c040" />
      <text x={14.2} y={18.2} fill="#f4e020" fontFamily={SANS} fontSize={7.5} fontWeight={700} textAnchor="middle">DEMO</text>
      <Mono x={29} y={12.3} fill="#3c2a10" weight={400}>{title}</Mono>
      <Mono x={1917} y={12.3} fill="#3c2a10" weight={400} anchor="end">IT-Finance.com</Mono>

      {/* legend row */}
      <Chip x={1} w={109.7} label="Heikin-Ashi" textX={20} colors={['#98d8d8', '#e8a878']} />
      <Chip x={110.7} w={165.3} label="Points pivots (4h)" textX={129.5} colors={['#b8b8b8', '#e0c890']} />
      <Chip x={276} w={166} label="Zone d'Achat/Vente" textX={296.4} colors={['#00c820', '#ff3030']} />
      <Chip x={442} w={166} label="Points pivots (4h)" textX={461.4} colors={['#b8b8b8', '#a0c8b4', '#e0c890']} />
      <Chip x={608} w={64} label="PP F1" textX={627.6} colors={[]} />
    </svg>
  )
}
